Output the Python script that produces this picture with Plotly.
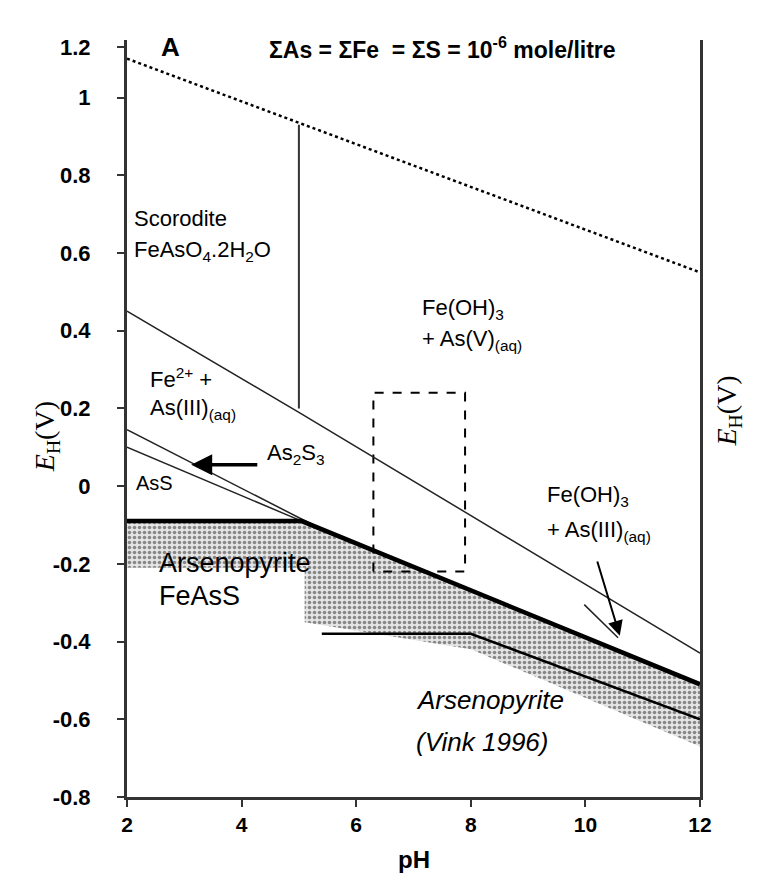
import plotly.graph_objects as go

# ---- data ----
water_ph = [2, 12]
water_eh = [1.10, 0.55]

scorodite_ph = [5, 5]
scorodite_eh = [0.20, 0.93]

fe_ph = [2, 5, 12]
fe_eh = [0.45, 0.19, -0.43]

as2s3_ph = [2, 5.25]
as2s3_eh = [0.145, -0.10]

ass_ph = [2, 5.05]
ass_eh = [0.10, -0.09]

apy_ph = [2, 5.05, 12]
apy_eh = [-0.09, -0.09, -0.51]

vink_ph = [5.4, 8.0, 12]
vink_eh = [-0.38, -0.38, -0.60]

rect_ph = [6.3, 6.3, 7.9, 7.9, 6.3]
rect_eh = [-0.22, 0.24, 0.24, -0.22, -0.22]

seg_ph = [9.98, 10.57]
seg_eh = [-0.305, -0.39]

stip_ph = [2, 5.05, 12, 12, 8.0, 5.1, 5.1, 2]
stip_eh = [-0.09, -0.09, -0.51, -0.67, -0.42, -0.35, -0.21, -0.21]

x_ticks = [2, 4, 6, 8, 10, 12]
y_tickvals = [-0.8, -0.6, -0.4, -0.2, 0, 0.2, 0.4, 0.6, 0.8, 1.0, 1.1305]
y_ticktext = ["-0.8", "-0.6", "-0.4", "-0.2", "0", "0.2", "0.4", "0.6", "0.8", "1", "1.2"]

FONT = "Liberation Sans, Arial, sans-serif"
SERIF = "Liberation Serif, Times New Roman, serif"

fig = go.Figure()

fig.add_trace(go.Scatter(
    x=stip_ph, y=stip_eh, mode="lines", fill="toself",
    line=dict(width=0, color="rgba(0,0,0,0)"),
    fillcolor="#d8d8d8",
    fillpattern=dict(shape=".", fgcolor="#2a2a2a", bgcolor="#e4e4e4", size=5, solidity=0.4),
    hoverinfo="skip", showlegend=False))

fig.add_trace(go.Scatter(x=rect_ph, y=rect_eh, mode="lines",
                         line=dict(color="black", width=2, dash="dash"), showlegend=False))
fig.add_trace(go.Scatter(x=water_ph, y=water_eh, mode="lines",
                         line=dict(color="black", width=2.5, dash="dot"), showlegend=False))
fig.add_trace(go.Scatter(x=scorodite_ph, y=scorodite_eh, mode="lines",
                         line=dict(color="#333333", width=2), showlegend=False))
fig.add_trace(go.Scatter(x=fe_ph, y=fe_eh, mode="lines",
                         line=dict(color="#222222", width=1.5), showlegend=False))
fig.add_trace(go.Scatter(x=as2s3_ph, y=as2s3_eh, mode="lines",
                         line=dict(color="#222222", width=1.5), showlegend=False))
fig.add_trace(go.Scatter(x=ass_ph, y=ass_eh, mode="lines",
                         line=dict(color="#222222", width=1.5), showlegend=False))
fig.add_trace(go.Scatter(x=seg_ph, y=seg_eh, mode="lines",
                         line=dict(color="#222222", width=1.5), showlegend=False))
fig.add_trace(go.Scatter(x=vink_ph, y=vink_eh, mode="lines",
                         line=dict(color="black", width=2.5), showlegend=False))
fig.add_trace(go.Scatter(x=apy_ph, y=apy_eh, mode="lines",
                         line=dict(color="black", width=4.5), showlegend=False))

def txt(x, y, s, size=22, italic=False, bold=False, anchor="left"):
    if italic:
        s = "<i>" + s + "</i>"
    if bold:
        s = "<b>" + s + "</b>"
    fig.add_annotation(x=x, y=y, xref="x", yref="y", text=s, showarrow=False,
                       xanchor=anchor, yanchor="middle",
                       font=dict(family=FONT, size=size, color="black"))

txt(2.55, 1.13, "A", size=26, bold=True)
txt(4.45, 1.128, "ΣAs = ΣFe  = ΣS = 10<sup>-6</sup> mole/litre", size=23, bold=True)
txt(2.08, 0.688, "Scorodite", size=22)
txt(2.08, 0.605, "FeAsO<sub>4</sub>.2H<sub>2</sub>O", size=22)
txt(7.11, 0.455, "Fe(OH)<sub>3</sub>", size=22)
txt(7.11, 0.376, "+ As(V)<sub>(aq)</sub>", size=22)
txt(2.36, 0.277, "Fe<sup>2+</sup> +", size=22)
txt(2.36, 0.198, "As(III)<sub>(aq)</sub>", size=22)
txt(4.41, 0.082, "As<sub>2</sub>S<sub>3</sub>", size=22)
txt(2.12, 0.008, "AsS", size=20)
txt(2.52, -0.198, "Arsenopyrite", size=27)
txt(2.52, -0.284, "FeAsS", size=27)
txt(9.30, -0.026, "Fe(OH)<sub>3</sub>", size=22)
txt(9.30, -0.115, "+ As(III)<sub>(aq)</sub>", size=22)
txt(7.01, -0.551, "Arsenopyrite", size=26, italic=True)
txt(7.01, -0.659, "(Vink 1996)", size=26, italic=True)

# arrows
fig.add_annotation(x=3.12, y=0.055, ax=4.30, ay=0.055, xref="x", yref="y",
                   axref="x", ayref="y", text="", showarrow=True,
                   arrowhead=2, arrowsize=1.2, arrowwidth=3.5, arrowcolor="black")
fig.add_annotation(x=10.6, y=-0.385, ax=10.2, ay=-0.19, xref="x", yref="y",
                   axref="x", ayref="y", text="", showarrow=True,
                   arrowhead=2, arrowsize=1.5, arrowwidth=2, arrowcolor="black")

# axis titles (left and the cut-off neighbouring panel on the right)
fig.add_annotation(x=-0.1745, y=0.476, xref="paper", yref="paper",
                   text="<i>E</i><sub>H</sub>(V)", showarrow=False, textangle=-90,
                   font=dict(family=SERIF, size=28, color="black"))
fig.add_annotation(x=1.084, y=0.51, xref="paper", yref="paper",
                   text="<i>E</i><sub>H</sub>(V)", showarrow=False, textangle=-90,
                   font=dict(family=SERIF, size=28, color="black"))
fig.add_annotation(x=0.5, y=-0.082, xref="paper", yref="paper", yanchor="middle",
                   text="<b>pH</b>", showarrow=False,
                   font=dict(family=FONT, size=24, color="black"))

fig.update_xaxes(range=[2, 12], tickvals=x_ticks, ticktext=[str(v) for v in x_ticks],
                 ticks="outside", ticklen=7, tickwidth=2, tickcolor="#333",
                 showline=True, linecolor="#333", linewidth=3, showgrid=False, zeroline=False,
                 automargin=False, ticklabelstandoff=0,
                 tickfont=dict(family=FONT, size=21, color="black", weight="bold"))
fig.update_yaxes(range=[-0.8, 1.148], tickvals=y_tickvals, ticktext=y_ticktext,
                 ticks="outside", ticklen=7, tickwidth=2, tickcolor="#333",
                 showline=True, linecolor="#333", linewidth=3, mirror=True,
                 showgrid=False, zeroline=False, automargin=False, ticklabelstandoff=22,
                 tickfont=dict(family=FONT, size=22, color="black", weight="bold"))

# the page adds an 8px body margin, so the figure is sized to fit inside the window
fig.update_layout(width=747, height=865, margin=dict(l=119, r=55, t=32, b=76),
                  plot_bgcolor="white", paper_bgcolor="white", showlegend=False)

fig.write_html("out.html")
